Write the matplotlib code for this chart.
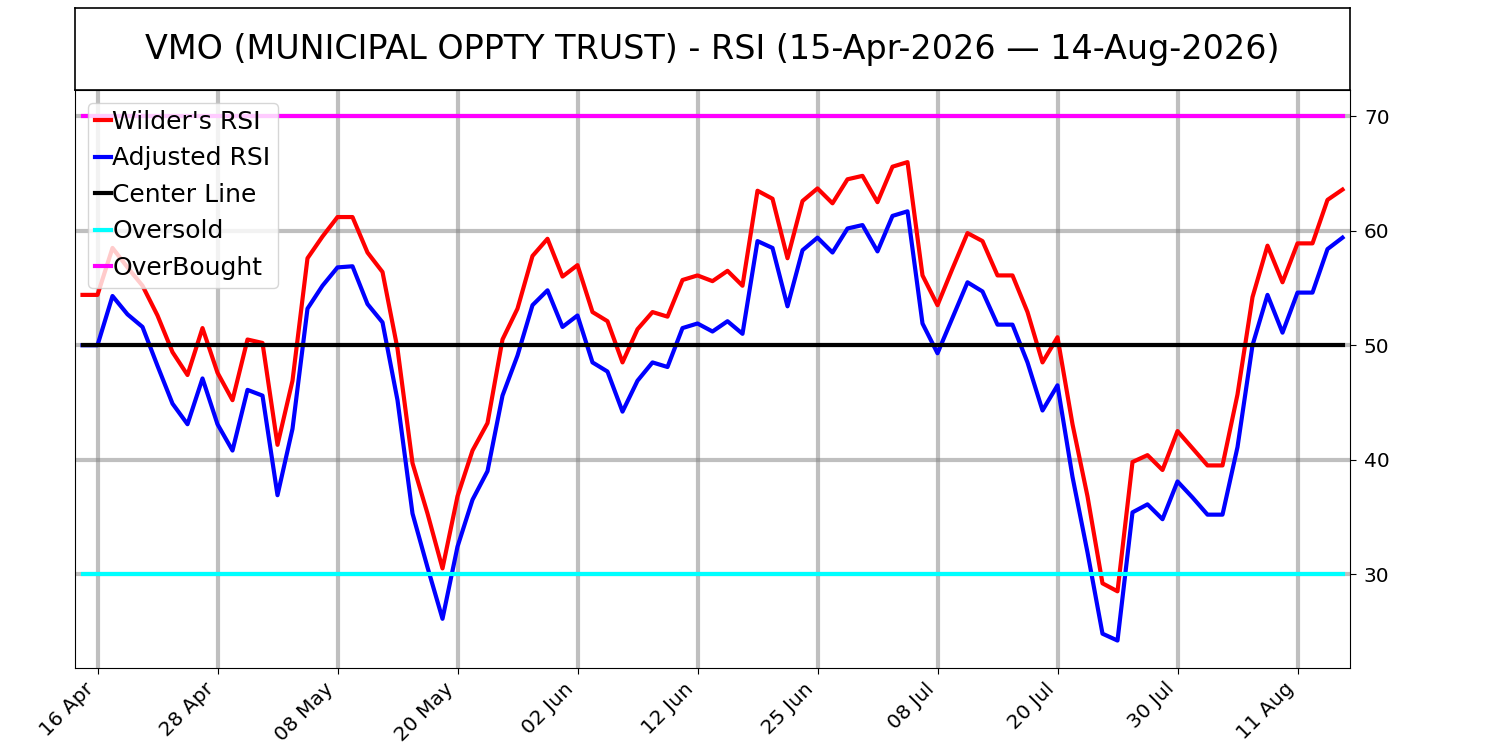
import matplotlib
matplotlib.use("Agg")
import matplotlib.pyplot as plt
import pandas as pd

# ---- data ----
holidays = ["2026-05-25", "2026-06-19", "2026-07-03"]
dates = pd.bdate_range("2026-04-15", "2026-08-14", freq="C", holidays=holidays)

wilder_rsi = [54.4, 54.4, 58.5, 56.8, 55.2, 52.6, 49.4, 47.4, 51.5, 47.6,
              45.2, 50.5, 50.2, 41.3, 46.9, 57.6, 59.5, 61.2, 61.2, 58.1,
              56.4, 49.7, 39.7, 35.3, 30.5, 36.8, 40.8, 43.2, 50.5, 53.2,
              57.8, 59.3, 56.0, 57.0, 52.9, 52.1, 48.5, 51.4, 52.9, 52.5,
              55.7, 56.1, 55.6, 56.5, 55.2, 63.5, 62.8, 57.6, 62.6, 63.7,
              62.4, 64.5, 64.8, 62.5, 65.6, 66.0, 56.1, 53.5, 56.7, 59.8,
              59.1, 56.1, 56.1, 52.9, 48.5, 50.7, 43.1, 36.8, 29.2, 28.5,
              39.8, 40.4, 39.1, 42.5, 41.0, 39.5, 39.5, 45.7, 54.2, 58.7,
              55.5, 58.9, 58.9, 62.7, 63.6]

adjusted_rsi = [50.0, 50.0, 54.3, 52.7, 51.6, 48.2, 44.9, 43.1, 47.1, 43.1,
                40.8, 46.1, 45.6, 36.9, 42.7, 53.2, 55.2, 56.8, 56.9, 53.6,
                52.0, 45.2, 35.3, 30.6, 26.1, 32.4, 36.5, 39.0, 45.6, 49.1,
                53.5, 54.8, 51.6, 52.6, 48.5, 47.7, 44.2, 46.9, 48.5, 48.1,
                51.5, 51.9, 51.2, 52.1, 51.0, 59.1, 58.5, 53.4, 58.3, 59.4,
                58.1, 60.2, 60.5, 58.2, 61.3, 61.7, 51.9, 49.3, 52.4, 55.5,
                54.7, 51.8, 51.8, 48.5, 44.3, 46.5, 38.5, 31.9, 24.8, 24.2,
                35.4, 36.1, 34.8, 38.1, 36.7, 35.2, 35.2, 41.1, 50.0, 54.4,
                51.1, 54.6, 54.6, 58.4, 59.4]

center_level = 50
oversold_level = 30
overbought_level = 70

tick_labels = ["16 Apr", "28 Apr", "08 May", "20 May", "02 Jun", "12 Jun",
               "25 Jun", "08 Jul", "20 Jul", "30 Jul", "11 Aug"]
title = "VMO (MUNICIPAL OPPTY TRUST) - RSI (15-Apr-2026 \u2014 14-Aug-2026)"

# ---- plot ----
n = len(wilder_rsi)
x = list(range(n))
label_dates = [d.strftime("%d %b") for d in dates]
tick_pos = [label_dates.index(t) for t in tick_labels]

fig = plt.figure(figsize=(15, 7.5), dpi=100)
ax = fig.add_axes([0.05, 0.1093, 0.85, 0.7707])
tax = fig.add_axes([0.05, 0.88, 0.85, 0.1093])

tax.set_xticks([])
tax.set_yticks([])
for s in tax.spines.values():
    s.set_color("black")
    s.set_linewidth(1.2)
tax.text(0.5, 0.5, title, ha="center", va="center", fontsize=24,
         transform=tax.transAxes)

lw = 3
ax.plot(x, wilder_rsi, color="red", lw=lw, label="Wilder's RSI", zorder=3)
ax.plot(x, adjusted_rsi, color="blue", lw=lw, label="Adjusted RSI", zorder=3)
ax.plot(x, [center_level] * n, color="black", lw=lw, label="Center Line", zorder=3)
ax.plot(x, [oversold_level] * n, color="cyan", lw=lw, label="Oversold", zorder=3)
ax.plot(x, [overbought_level] * n, color="magenta", lw=lw, label="OverBought", zorder=3)

ax.set_xlim(-0.5, n - 0.5)
ax.set_ylim(21.8, 72.3)
ax.set_xticks(tick_pos)
ax.set_xticklabels(tick_labels, rotation=45, ha="right", fontsize=14.5)
ax.set_yticks([30, 40, 50, 60, 70])
ax.yaxis.tick_right()
ax.tick_params(axis="y", labelsize=14.5, length=4.5, pad=5.5)
ax.tick_params(axis="x", length=4.5)
ax.grid(True, color="gray", alpha=0.5, lw=3, zorder=0)
ax.set_axisbelow(True)

ax.legend(loc="upper left", fontsize=18, handlelength=0.65, handletextpad=0.05,
          borderpad=0.3, labelspacing=0.5, borderaxespad=0.5)

fig.savefig("out.png", dpi=100)
